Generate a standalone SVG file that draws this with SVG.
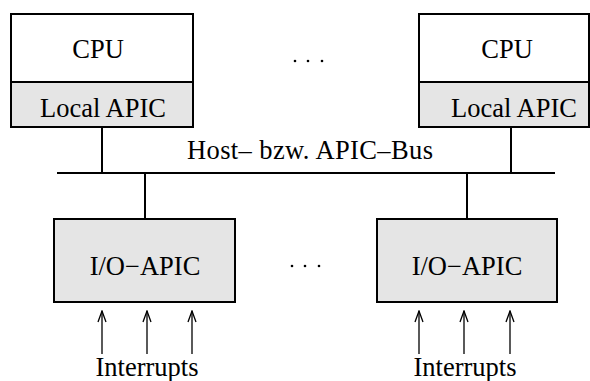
<svg xmlns="http://www.w3.org/2000/svg" width="590" height="381" viewBox="0 0 590 381">
  <style>
    .box { fill: #ffffff; stroke: #000; stroke-width: 2; }
    .apic { fill: #e5e5e5; stroke: #000; stroke-width: 2; }
    .line { stroke: #000; stroke-width: 2; fill: none; }
    .irq { stroke: #000; stroke-width: 1.3; fill: none; }
    .lbl { font-family: "Liberation Serif", "Times New Roman", serif; font-size: 26.5px; fill: #000; text-anchor: middle; }
  </style>
  <defs>
    <!-- open arrowhead, drawn pointing along +x -->
    <marker id="open" markerWidth="13" markerHeight="10" refX="12" refY="5" orient="auto" markerUnits="userSpaceOnUse" viewBox="0 0 13 10">
      <path d="M1,1 L12,5 L1,9" fill="none" stroke="#000" stroke-width="1.3"/>
    </marker>
  </defs>

  <!-- CPU with local APIC, left -->
  <g id="cpu1">
    <rect class="box" x="11" y="14" width="182" height="68"/>
    <rect class="apic" x="11" y="82" width="182" height="45"/>
    <text class="lbl" x="98" y="58">CPU</text>
    <text class="lbl" x="103" y="117">Local APIC</text>
  </g>

  <!-- CPU with local APIC, right -->
  <g id="cpu2">
    <rect class="box" x="419" y="14" width="170" height="68"/>
    <rect class="apic" x="419" y="82" width="170" height="45"/>
    <text class="lbl" x="507" y="58">CPU</text>
    <text class="lbl" x="514" y="117">Local APIC</text>
  </g>

  <!-- I/O APICs -->
  <g id="ioapic1">
    <rect class="apic" x="54" y="219" width="181" height="83"/>
    <text class="lbl" x="145" y="275">I/O−APIC</text>
  </g>
  <g id="ioapic2">
    <rect class="apic" x="377" y="219" width="180" height="83"/>
    <text class="lbl" x="467" y="275">I/O−APIC</text>
  </g>

  <!-- ellipses -->
  <g id="dots-top" fill="#000">
    <circle cx="295" cy="61" r="1.3"/>
    <circle cx="308" cy="61" r="1.3"/>
    <circle cx="322" cy="61" r="1.3"/>
  </g>
  <g id="dots-bottom" fill="#000">
    <circle cx="292" cy="266" r="1.3"/>
    <circle cx="305" cy="266" r="1.3"/>
    <circle cx="319" cy="266" r="1.3"/>
  </g>

  <!-- bus -->
  <g id="bus">
    <text class="lbl" x="310" y="159" textLength="246" lengthAdjust="spacing">Host– bzw. APIC–Bus</text>
  </g>

  <g id="connectors">
    <line class="line" x1="57" y1="173" x2="555" y2="173"/>
    <line class="line" x1="102" y1="127" x2="102" y2="173"/>
    <line class="line" x1="511" y1="127" x2="511" y2="173"/>
    <line class="line" x1="145" y1="173" x2="145" y2="219"/>
    <line class="line" x1="467" y1="173" x2="467" y2="219"/>

    <line class="irq" x1="102" y1="354" x2="102" y2="311" marker-end="url(#open)"/>
    <line class="irq" x1="147" y1="354" x2="147" y2="311" marker-end="url(#open)"/>
    <line class="irq" x1="192" y1="354" x2="192" y2="311" marker-end="url(#open)"/>
    <line class="irq" x1="419" y1="354" x2="419" y2="311" marker-end="url(#open)"/>
    <line class="irq" x1="464" y1="354" x2="464" y2="311" marker-end="url(#open)"/>
    <line class="irq" x1="510" y1="354" x2="510" y2="311" marker-end="url(#open)"/>
  </g>

  <g id="irq-labels">
    <text class="lbl" x="147" y="376">Interrupts</text>
    <text class="lbl" x="465" y="376">Interrupts</text>
  </g>
</svg>
